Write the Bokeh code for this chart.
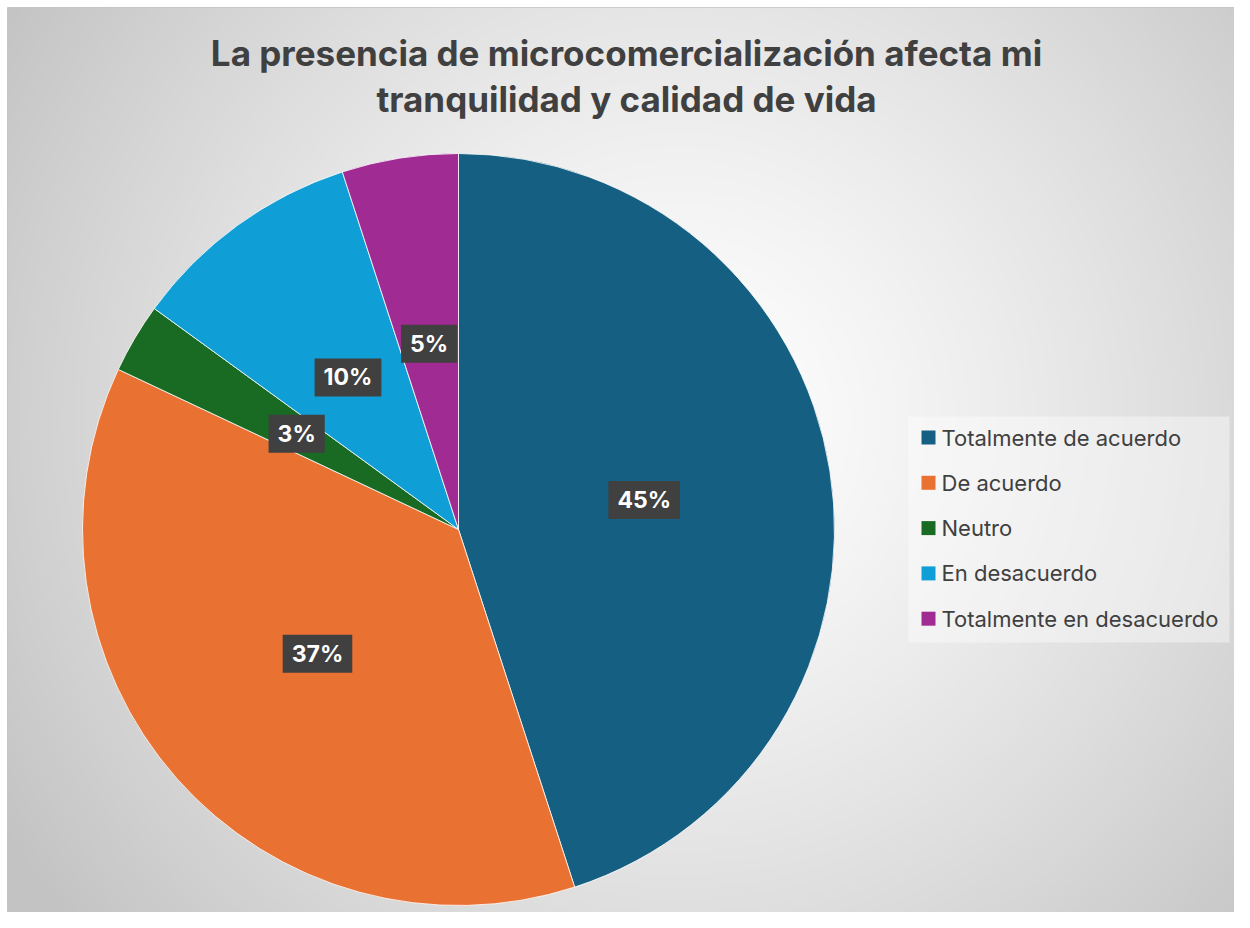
import numpy as np
from bokeh.plotting import figure
from bokeh.models import Range1d, Label
from bokeh.core.properties import value
from bokeh.embed import file_html
from bokeh.resources import INLINE

title_lines = ["La presencia de microcomercialización afecta mi", "tranquilidad y calidad de vida"]
categories = ["Totalmente de acuerdo", "De acuerdo", "Neutro", "En desacuerdo", "Totalmente en desacuerdo"]
values = [45, 37, 3, 10, 5]
colors = ["#156082", "#E97132", "#196B24", "#0F9ED5", "#A02B93"]

W, H = 1234, 912
H_IMG = 928
X0, Y0 = 7, 7  # chart area top-left within the figure


def Y(yi):
    return H_IMG - yi


p = figure(width=W, height=H, output_backend="svg", toolbar_location=None,
           x_range=Range1d(X0, W), y_range=Range1d(Y(H), Y(Y0)),
           min_border_left=X0, min_border_top=Y0, min_border_right=0, min_border_bottom=0,
           outline_line_color="#c4c4c4", outline_line_width=1)
p.axis.visible = False
p.grid.visible = False
p.background_fill_color = "#e6e6e6"
p.border_fill_color = "#ffffff"

# radial gradient background
nx, ny = 409, 302
xs = np.linspace(X0, W, nx)
ys = np.linspace(Y(H), Y(Y0), ny)
XX, YY = np.meshgrid(xs, ys)
cx, cy = 680, Y(420)
d = np.sqrt((XX - cx) ** 2 + (YY - cy) ** 2)
d = d / 800.0
g = 255 - 60 * np.clip(d, 0, 1) ** 1.3
img = np.empty((ny, nx), dtype=np.uint32)
view = img.view(dtype=np.uint8).reshape((ny, nx, 4))
gi = g.astype(np.uint8)
view[:, :, 0] = gi
view[:, :, 1] = gi
view[:, :, 2] = gi
view[:, :, 3] = 255
p.image_rgba(image=[img], x=X0, y=Y(H), dw=W - X0, dh=H - Y0)

# pie
pcx, pcy, R = 458, Y(529), 376
total = sum(values)
cum = np.cumsum([0] + values)
starts = [float(np.pi / 2 - 2 * np.pi * cum[i] / total) for i in range(len(values))]
ends = [float(np.pi / 2 - 2 * np.pi * cum[i + 1] / total) for i in range(len(values))]
p.wedge(x=pcx, y=pcy, radius=R, start_angle=starts, end_angle=ends, direction="clock",
        fill_color=colors, line_color="white", line_width=0.8)

# data labels
pad = dict(left=9, right=9, top=5, bottom=5)
for i, v in enumerate(values):
    mid = (starts[i] + ends[i]) / 2
    lx = float(pcx + 0.5 * R * np.cos(mid))
    ly = float(pcy + 0.5 * R * np.sin(mid))
    txt = f"{v}%"
    shadow = Label(x=lx, y=ly, text=txt, x_offset=3, y_offset=-4, text_align="center",
                   text_baseline="middle", text_font="Inter", text_font_style="bold",
                   text_font_size="23px", text_alpha=0.0, padding=pad,
                   background_fill_color="#000000", background_fill_alpha=0.22)
    p.add_layout(shadow)
    lab = Label(x=lx, y=ly, text=txt, text_align="center", text_baseline="middle",
                text_font="Inter", text_font_style="bold", text_font_size="23px",
                text_color="white", padding=pad,
                background_fill_color="#404040", background_fill_alpha=1.0)
    p.add_layout(lab)

# title
for j, t in enumerate(title_lines):
    p.text(x=[626], y=[Y(52 + 46 * j)], text=[t], text_align="center", text_baseline="middle",
           text_font=value("Inter"), text_font_style="bold", text_font_size="35px",
           text_color="#404040")

# legend
p.quad(left=908, right=1229, top=Y(416), bottom=Y(642), fill_color="white", fill_alpha=0.4,
       line_color=None)
leg_y = [Y(437 + 45.3 * i) for i in range(len(categories))]
p.scatter(x=[928] * len(categories), y=leg_y, marker="square", size=14, fill_color=colors,
          line_color=None)
p.text(x=[941] * len(categories), y=leg_y, text=categories, text_baseline="middle",
       text_font=value("Inter"), text_font_size="22px", text_color="#404040")

open("out.html", "w").write(file_html(p, INLINE))
